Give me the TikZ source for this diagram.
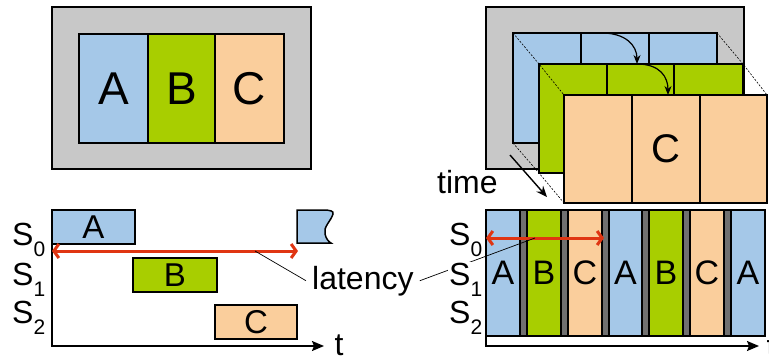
\documentclass[tikz,border=0pt]{standalone}
\usepackage{fontspec}
\setmainfont{Liberation Sans}
\usetikzlibrary{arrows.meta,calc}
\definecolor{cblue}{HTML}{A5C8E8}
\definecolor{cgreen}{HTML}{A8CE00}
\definecolor{corange}{HTML}{FACE9C}
\definecolor{cgray}{HTML}{C8C8C8}
\definecolor{cdark}{HTML}{707070}
\definecolor{cred}{HTML}{E03512}
\newcommand\fs[1]{\fontsize{#1}{#1}\selectfont}
\newcommand\blk[8][]{\node[blk,fill=#7,minimum width={(#4-#2)*1pt},minimum height={(#6-#3)*1pt},#1] (#5) at ({(#2+#4)/2},{(#3+#6)/2}) {#8};}
\newcommand\slab[1]{\fs{32}S\raisebox{-11pt}{\fs{21}#1}}
\begin{document}
\begin{tikzpicture}[x=1pt,y=-1pt,
  blk/.style={draw,line width=1.5pt,inner sep=0pt,outer sep=0pt},
  col/.style={blk,line width=1.1pt},
  dashline/.style={dash pattern=on 2pt off 1.5pt,line width=0.6pt},
  curvarrow/.style={line width=1.2pt,-{Stealth[length=9pt,width=7pt]}},
  axisline/.style={line width=1.7pt,-{Stealth[length=12pt,width=10pt,inset=2pt]}},
  redarrow/.style={cred,line width=3pt,{Straight Barb[length=5pt,width=14pt]}-{Straight Barb[length=5pt,width=14pt]}},
  thinline/.style={line width=0.7pt},
  lbl/.style={inner sep=0pt,font=\fs{32}},
  slabel/.style={inner sep=1pt,fill=white,anchor=base west}]
\useasboundingbox (0,0) rectangle (769,360);
\clip (0,0) rectangle (769,360);

% ---------- top left ----------
\blk{52}{7}{311}{tlframe}{169}{cgray}{}
\blk[font=\fs{46}]{79}{34}{148}{tlA}{143}{cblue}{A}
\blk[font=\fs{46}]{148}{34}{215}{tlB}{143}{cgreen}{B}
\blk[font=\fs{46}]{215}{34}{284}{tlC}{143}{corange}{C}

% ---------- top right ----------
\blk{486}{7}{744}{trframe}{169}{cgray}{}
\blk{513}{33}{581}{tb1}{143}{cblue}{}
\blk{581}{33}{649}{tb2}{143}{cblue}{}
\blk{649}{33}{717}{tb3}{143}{cblue}{}
\blk{539}{64}{607}{tg1}{173}{cgreen}{}
\blk{607}{64}{674}{tg2}{173}{cgreen}{}
\blk{674}{64}{743}{tg3}{173}{cgreen}{}
\draw[dashline] (tb1.north west) -- (tg1.north west) -- (564,95);
\draw[dashline] (tb3.north east) -- (tg3.north east) -- (767,95);
\draw[dashline] (tb1.south west) -- (tg1.south west) -- (564,203);
\coordinate (a1s) at (602,33);
\coordinate (a1e) at (637,64);
\draw[curvarrow] (a1s) .. controls (625,33) and (637,45) .. (a1e);
\blk{564}{95}{632}{to1}{203}{corange}{}
\blk[font=\fs{40}]{632}{95}{700}{to2}{203}{corange}{C}
\blk{700}{95}{767}{to3}{203}{corange}{}
\coordinate (a2e) at (668,95);
\draw[curvarrow] (a1e) .. controls (660,64) and (668,77) .. (a2e);
\node[lbl,anchor=base west] (timelbl) at (437,193) {time};
\coordinate (ts) at (510,155);
\coordinate (te) at (547,197);
\draw[line width=1.4pt,-{Stealth[length=11pt,width=9pt]}] (ts) -- (te);

% ---------- bottom left ----------
\blk[font=\fs{33}]{52}{210}{135}{blA}{244}{cblue}{A}
\blk[font=\fs{33}]{133}{258}{217}{blB}{292}{cgreen}{B}
\blk[font=\fs{33}]{215}{305}{297}{blC}{339}{corange}{C}
\draw[blk,fill=cblue] (297,210) -- (323,210) .. controls (330,210) and (334,211) .. (333,214)
  .. controls (331,221) and (323,227) .. (325,234) .. controls (326,239) and (329,242) .. (331,243)
  -- (297,243) -- cycle;
\coordinate (lax) at (52,346);
\coordinate (laxe) at (324,346);
\draw[axisline] (blA.south west) -- (lax) -- (laxe);
\node[lbl,anchor=base] (tl) at (339,355) {t};
\node[slabel] (ls0) at (11,245) {\slab{0}};
\node[slabel] (ls1) at (11,285) {\slab{1}};
\node[slabel] (ls2) at (11,323) {\slab{2}};
\coordinate (r1l) at (52,251);
\coordinate (r1r) at (298,251);
\draw[redarrow] (r1l) -- (r1r);

% ---------- bottom right ----------
\blk{486}{210}{765}{brbox}{336}{cdark}{}
\blk[col,font=\fs{34}]{486}{210}{520}{c0}{336}{cblue}{A}
\blk[col,font=\fs{34}]{527}{210}{561}{c1}{336}{cgreen}{B}
\blk[col,font=\fs{34}]{568}{210}{602}{c2}{336}{corange}{C}
\blk[col,font=\fs{34}]{609}{210}{642}{c3}{336}{cblue}{A}
\blk[col,font=\fs{34}]{649}{210}{683}{c4}{336}{cgreen}{B}
\blk[col,font=\fs{34}]{690}{210}{724}{c5}{336}{corange}{C}
\blk[col,font=\fs{34}]{731}{210}{765}{c6}{336}{cblue}{A}
\draw[line width=1.5pt] (brbox.north west) rectangle (brbox.south east);
\coordinate (rax) at (486,346);
\coordinate (raxe) at (759,346);
\draw[axisline] (brbox.south west) -- (rax) -- (raxe);
\node[lbl,anchor=base] (tr) at (771,357) {t};
\coordinate (r2l) at (486,238);
\coordinate (r2r) at (604,238);
\draw[redarrow] (r2l) -- (r2r);

% ---------- latency ----------
\node[lbl,anchor=base west,inner sep=6pt] (lat) at (306,289) {latency};
\coordinate (lp1) at (255,251);
\coordinate (lp2) at (535,238);
\draw[thinline] (lp1) -- (lat.west);
\draw[thinline] (lat.east) -- (lp2);
\node[slabel] (rs0) at (448,245) {\slab{0}};
\node[slabel] (rs1) at (448,285) {\slab{1}};
\node[slabel] (rs2) at (448,323) {\slab{2}};
\end{tikzpicture}
\end{document}
